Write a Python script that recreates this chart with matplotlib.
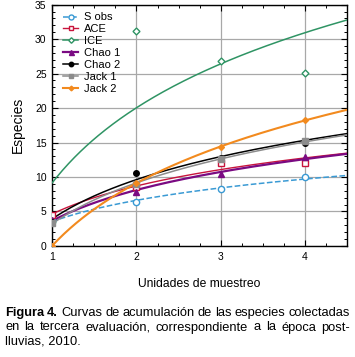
import numpy as np
import matplotlib
matplotlib.use("Agg")
import matplotlib.pyplot as plt
from matplotlib.ticker import MultipleLocator
from matplotlib.font_manager import FontProperties

plt.rcParams['font.family'] = ['Liberation Sans', 'DejaVu Sans']

# ---- data ----
unidades = [1, 2, 3, 4]
series_names = ["S obs", "ACE", "ICE", "Chao 1", "Chao 2", "Jack 1", "Jack 2"]
s_obs = [3.7, 6.4, 8.2, 10.0]
ace = [4.5, 8.6, 12.0, 12.1]
ice = [3.5, 31.2, 26.8, 25.05]
chao1 = [3.8, 7.9, 10.5, 12.9]
chao2 = [3.5, 10.55, 12.8, 15.0]
jack1 = [3.3, 9.0, 12.6, 15.2]
jack2 = [0.0, 9.2, 14.4, 18.2]
x_ticks = [1, 2, 3, 4]
y_ticks = [0, 5, 10, 15, 20, 25, 30, 35]

values = [s_obs, ace, ice, chao1, chao2, jack1, jack2]
styles = [
    dict(color="#3a9ad4", ls="--", lw=1.1, marker="o", mfc="white", ms=4.5, mew=1.0),
    dict(color="#c8143c", ls="-", lw=1.0, marker="s", mfc="white", ms=4, mew=1.0),
    dict(color="#2f9464", ls="-", lw=1.1, marker="D", mfc="white", ms=3.5, mew=1.0),
    dict(color="#7a0a82", ls="-", lw=1.6, marker="^", mfc="#7a0a82", ms=4.5, mew=1.0),
    dict(color="#000000", ls="-", lw=1.1, marker="o", mfc="#000000", ms=4, mew=1.0),
    dict(color="#8c8c8c", ls="-", lw=1.1, marker="s", mfc="#8c8c8c", ms=4, mew=1.0),
    dict(color="#f28a1e", ls="-", lw=1.5, marker="D", mfc="#f28a1e", ms=3, mew=1.0),
]

fig = plt.figure(figsize=(3.55, 3.57), dpi=100)
ax = fig.add_axes([0.147, 0.311, 0.831, 0.676])

xs = np.linspace(1, 4.5, 200)
handles = []
for name, vals, st in zip(series_names, values, styles):
    b, a = np.polyfit(np.log(unidades), vals, 1)
    ax.plot(xs, a + b * np.log(xs), color=st["color"], ls=st["ls"], lw=st["lw"], zorder=3)
    ax.plot(unidades, vals, ls="none", marker=st["marker"], mfc=st["mfc"], mec=st["color"],
            ms=st["ms"], mew=st["mew"], zorder=4, clip_on=True)
    h, = ax.plot([], [], color=st["color"], ls=st["ls"], lw=st["lw"], marker=st["marker"],
                 mfc=st["mfc"], mec=st["color"], ms=st["ms"] * 0.8, label=name)
    handles.append(h)

ax.set_xlim(1, 4.5)
ax.set_ylim(0, 35)
ax.set_xticks(x_ticks)
ax.set_yticks(y_ticks)
ax.xaxis.set_minor_locator(MultipleLocator(0.25))
ax.yaxis.set_minor_locator(MultipleLocator(1))
ax.grid(True, which="major", color="#a8a8a8", lw=0.9, zorder=0)
ax.tick_params(which="both", direction="in", top=True, right=True, labelsize=7.5, pad=4)
ax.tick_params(which="major", length=4, width=0.8)
ax.tick_params(which="minor", length=2.5, width=0.7)
for s in ax.spines.values():
    s.set_linewidth(1.0)

ax.set_ylabel("Especies", fontsize=10, labelpad=7)
ax.set_xlabel("Unidades de muestreo", fontsize=8.7, labelpad=12)

leg = ax.legend(handles=handles, loc="upper left", frameon=False, fontsize=8,
                handlelength=1.4, handletextpad=0.5, labelspacing=0.17,
                borderaxespad=0.3, bbox_to_anchor=(0.01, 1.0))

# ---- caption (justified) ----
fig.canvas.draw()
renderer = fig.canvas.get_renderer()
left_px, right_px = 5, 350
W, H = 355, 357
cap_fs = 9.3

def text_width(s, weight="normal"):
    prop = FontProperties(family=['Liberation Sans', 'DejaVu Sans'], size=cap_fs, weight=weight)
    w, h, d = renderer.get_text_width_height_descent(s, prop, ismath=False)
    return w

def justified_line(words, y_px):
    widths = [text_width(w, wt) for w, wt in words]
    gap = (right_px - left_px - sum(widths)) / (len(words) - 1)
    x = left_px
    for (w, wt), wd in zip(words, widths):
        fig.text(x / W, 1 - y_px / H, w, fontsize=cap_fs, weight=wt, va="center", ha="left")
        x += wd + gap

line1 = [("Figura", "bold"), ("4.", "bold")] + [(w, "normal") for w in
         "Curvas de acumulación de las especies colectadas".split()]
line2 = [(w, "normal") for w in "en la tercera evaluación, correspondiente a la época post-".split()]
justified_line(line1, 313)
justified_line(line2, 327.5)
fig.text(left_px / W, 1 - 342 / H, "lluvias, 2010.", fontsize=cap_fs, va="center", ha="left")

fig.savefig("out.png", dpi=100)
